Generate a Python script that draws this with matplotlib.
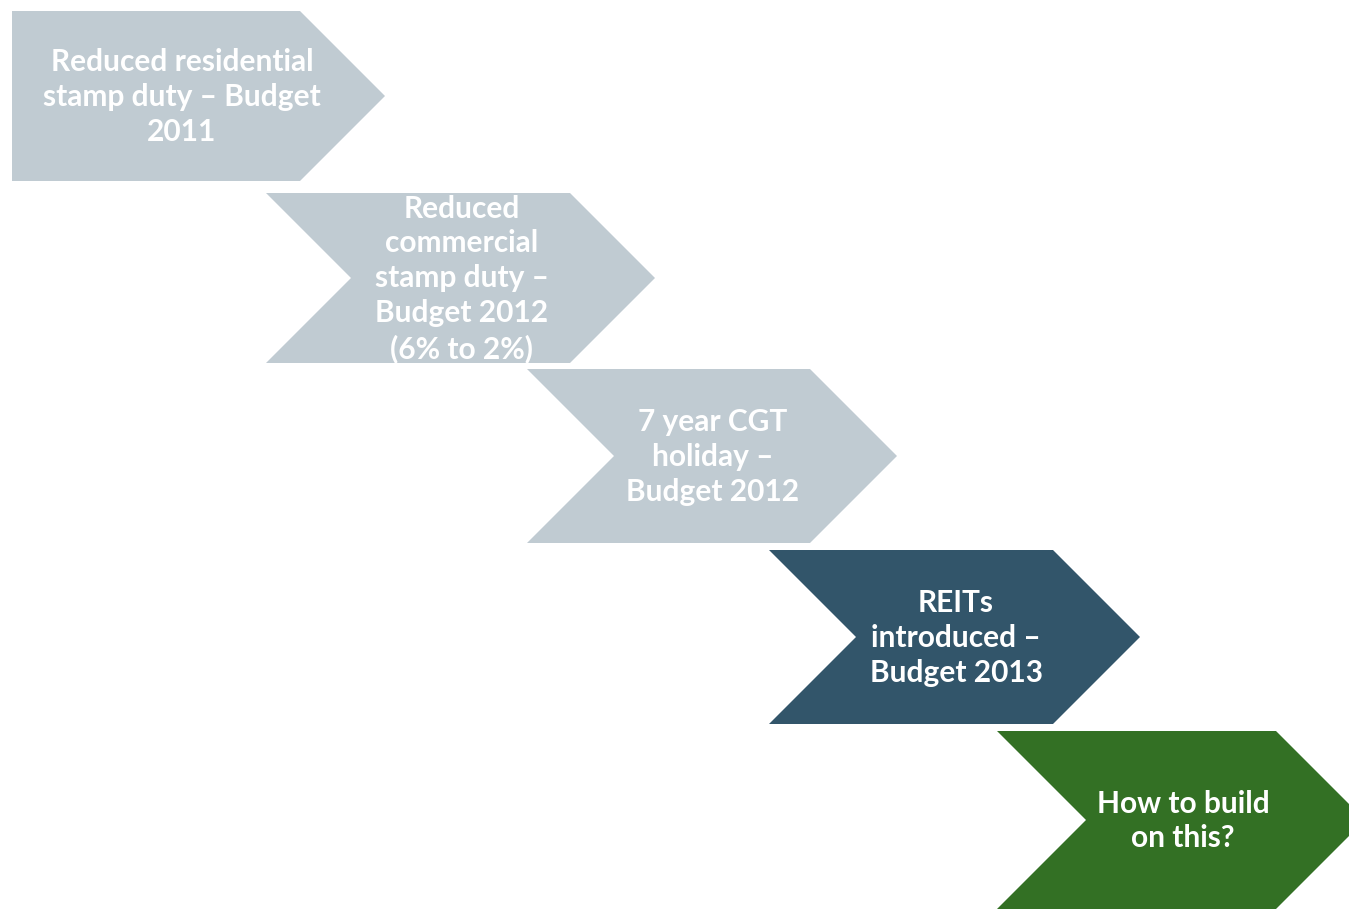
import matplotlib.pyplot as plt
from matplotlib.patches import Polygon

labels = [
    "Reduced residential\nstamp duty \u2013 Budget\n2011",
    "Reduced\ncommercial\nstamp duty \u2013\nBudget 2012\n(6% to 2%)",
    "7 year CGT\nholiday \u2013\nBudget 2012",
    "REITs\nintroduced \u2013\nBudget 2013",
    "How to build\non this?",
]
colors = ["#c0cbd2", "#c0cbd2", "#c0cbd2", "#32556a", "#337024"]

# layout of the staircase (pixels)
lefts = [12, 266, 527, 769, 997]
rights = [300, 570, 810, 1053, 1276]
tops = [11, 193, 369, 550, 731]
heights = [170, 170, 174, 174, 178]
text_x = [182, 462, 713, 956, 1183]

fig = plt.figure(figsize=(13.49, 9.09), dpi=100)
ax = fig.add_axes([0, 0, 1, 1])
ax.set_xlim(0, 1349)
ax.set_ylim(909, 0)
ax.axis("off")

for i, (lab, col) in enumerate(zip(labels, colors)):
    x0, x1, y0, h = lefts[i], rights[i], tops[i], heights[i]
    d = h / 2
    ym = y0 + d
    if i == 0:
        pts = [(x0, y0), (x1, y0), (x1 + d, ym), (x1, y0 + h), (x0, y0 + h)]
    else:
        pts = [(x0, y0), (x1, y0), (x1 + d, ym), (x1, y0 + h), (x0, y0 + h),
               (x0 + d, ym)]
    ax.add_patch(Polygon(pts, closed=True, facecolor=col, edgecolor="none"))
    ax.text(text_x[i], ym + 1, lab, ha="center", va="center", color="white",
            fontsize=21.5, fontweight="bold", family="Lato", linespacing=1.3)

plt.savefig("out.png", dpi=100)
